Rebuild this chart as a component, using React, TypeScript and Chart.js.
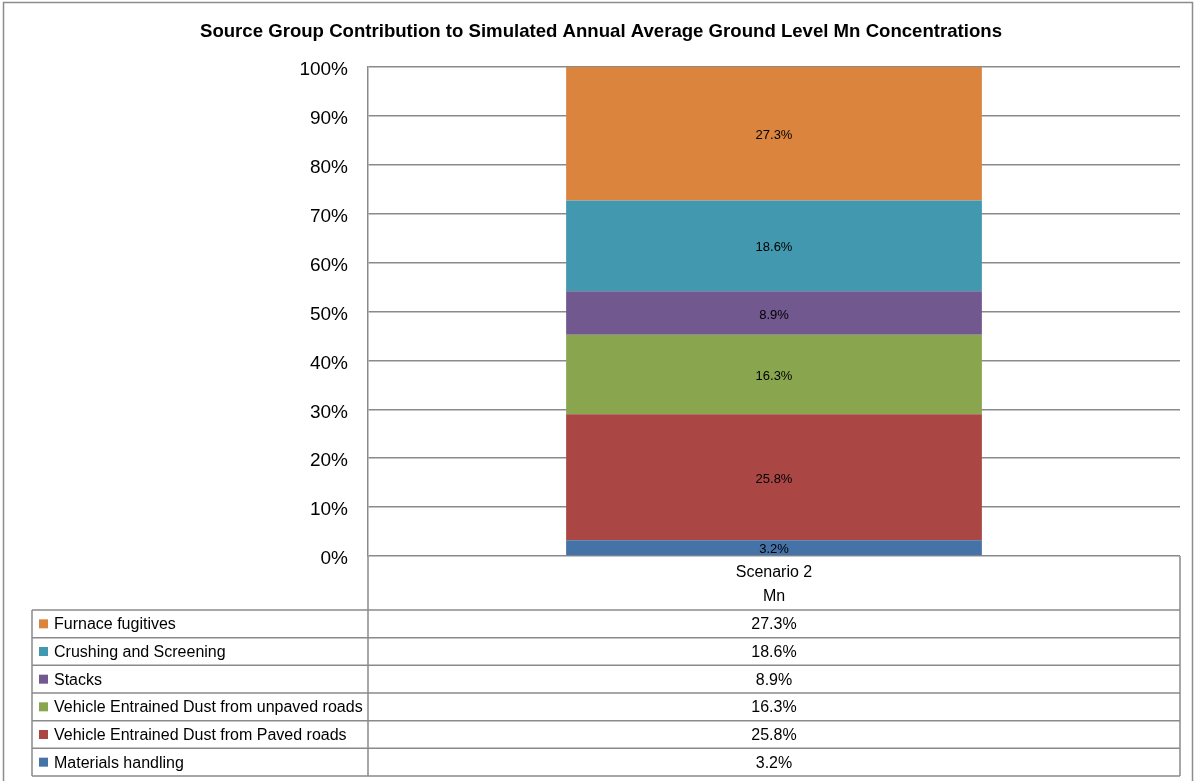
import React, { useEffect, useRef } from "react";
import { Chart, registerables } from "chart.js";

Chart.register(...registerables);

const TITLE = "Source Group Contribution to Simulated Annual Average Ground Level Mn Concentrations";
const categories = [["Scenario 2", "Mn"]];
const seriesNames = [
  "Materials handling",
  "Vehicle Entrained Dust from Paved roads",
  "Vehicle Entrained Dust from unpaved roads",
  "Stacks",
  "Crushing and Screening",
  "Furnace fugitives",
];
const seriesValues = [3.2, 25.8, 16.3, 8.9, 18.6, 27.3];
const seriesColors = ["#4572A7", "#AA4643", "#89A54E", "#71588F", "#4198AF", "#DB843D"];
const yTickValues = [0, 10, 20, 30, 40, 50, 60, 70, 80, 90, 100];

const FONT = "'Liberation Sans', Arial, sans-serif";
const GRID = "#8a8a8a";

const total = seriesValues.reduce((a, b) => a + b, 0);

const tablePlugin = {
  id: "tablePlugin",
  beforeDraw(chart: any) {
    const ctx = chart.ctx;
    ctx.save();
    ctx.fillStyle = "#fff";
    ctx.fillRect(0, 0, chart.width, chart.height);
    ctx.strokeStyle = "#8c8c8c";
    ctx.lineWidth = 1.5;
    ctx.strokeRect(3.5, 2.5, chart.width - 6, chart.height + 10);
    ctx.restore();
  },
  afterDatasetsDraw(chart: any) {
    const ctx = chart.ctx;
    ctx.save();
    ctx.font = `13px ${FONT}`;
    ctx.fillStyle = "#000";
    ctx.textAlign = "center";
    ctx.textBaseline = "middle";
    chart.data.datasets.forEach((ds: any, i: number) => {
      const meta = chart.getDatasetMeta(i);
      meta.data.forEach((el: any) => {
        const y = (el.y + el.base) / 2 + 2;
        ctx.fillText(seriesValues[i].toFixed(1) + "%", el.x, y);
      });
    });
    ctx.restore();
  },
  afterDraw(chart: any) {
    const ctx = chart.ctx;
    const ca = chart.chartArea;
    const tableLeft = 32;
    const headerTop = ca.bottom;
    const headerBottom = headerTop + 54;
    const tableBottom = chart.height - 5;
    const n = seriesNames.length;
    const rowH = (tableBottom - headerBottom) / n;
    ctx.save();
    ctx.strokeStyle = GRID;
    ctx.lineWidth = 1.5;
    ctx.beginPath();
    for (let r = 0; r <= n; r++) {
      const y = headerBottom + r * rowH;
      ctx.moveTo(tableLeft, y);
      ctx.lineTo(ca.right, y);
    }
    ctx.moveTo(tableLeft, headerBottom);
    ctx.lineTo(tableLeft, tableBottom);
    ctx.moveTo(ca.left, headerTop);
    ctx.lineTo(ca.left, tableBottom);
    ctx.moveTo(ca.right, headerTop);
    ctx.lineTo(ca.right, tableBottom);
    ctx.stroke();

    ctx.font = `16px ${FONT}`;
    ctx.textBaseline = "middle";
    const xCenter = chart.scales.x.getPixelForValue(0);
    for (let r = 0; r < n; r++) {
      const idx = n - 1 - r;
      const yc = headerBottom + r * rowH + rowH / 2;
      ctx.fillStyle = seriesColors[idx];
      ctx.fillRect(tableLeft + 7, yc - 4.5, 9, 9);
      ctx.fillStyle = "#000";
      ctx.textAlign = "left";
      ctx.fillText(seriesNames[idx], tableLeft + 22, yc + 1);
      ctx.textAlign = "center";
      ctx.fillText(seriesValues[idx].toFixed(1) + "%", xCenter, yc + 1);
    }
    ctx.restore();
  },
};

export default function App() {
  const ref = useRef<HTMLCanvasElement>(null);
  useEffect(() => {
    if (!ref.current) return;
    const chart = new Chart(ref.current, {
      type: "bar",
      data: {
        labels: categories as any,
        datasets: seriesNames.map((name, i) => ({
          label: name,
          data: [(seriesValues[i] / total) * 100],
          backgroundColor: seriesColors[i],
          borderWidth: 0,
          barPercentage: 0.512,
          categoryPercentage: 1,
        })),
      },
      options: {
        responsive: false,
        animation: false,
        layout: { padding: { left: 22, right: 15, top: 0, bottom: 0 } },
        plugins: {
          legend: { display: false },
          tooltip: { enabled: false },
          title: {
            display: true,
            text: TITLE,
            color: "#000",
            font: { family: FONT, size: 18.6, weight: "bold", lineHeight: 1.2 },
            padding: { top: 21, bottom: 23.7 },
          },
        },
        scales: {
          x: {
            stacked: true,
            grid: { display: false, drawTicks: false },
            border: { display: false },
            ticks: {
              color: "#000",
              font: { family: FONT, size: 16, lineHeight: 1.5 },
              padding: 5,
              maxRotation: 0,
            },
            afterFit(scale: any) {
              scale.height = 225;
            },
          },
          y: {
            stacked: true,
            min: 0,
            max: 100,
            afterBuildTicks(scale: any) {
              scale.ticks = yTickValues.map((v) => ({ value: v }));
            },
            grid: { color: GRID, lineWidth: 1.5, drawTicks: false },
            border: { display: true, color: GRID, width: 1.5 },
            ticks: {
              color: "#000",
              font: { family: FONT, size: 19 },
              padding: 20,
              labelOffset: 3,
              callback: (v: any) => v + "%",
            },
            afterFit(scale: any) {
              scale.width = 346;
            },
          },
        },
      },
      plugins: [tablePlugin],
    });
    return () => chart.destroy();
  }, []);
  return (
    <div style={{ position: "absolute", left: 0, top: 0, width: 1195, height: 781 }}>
      <canvas ref={ref} width={1195} height={781} />
    </div>
  );
}
